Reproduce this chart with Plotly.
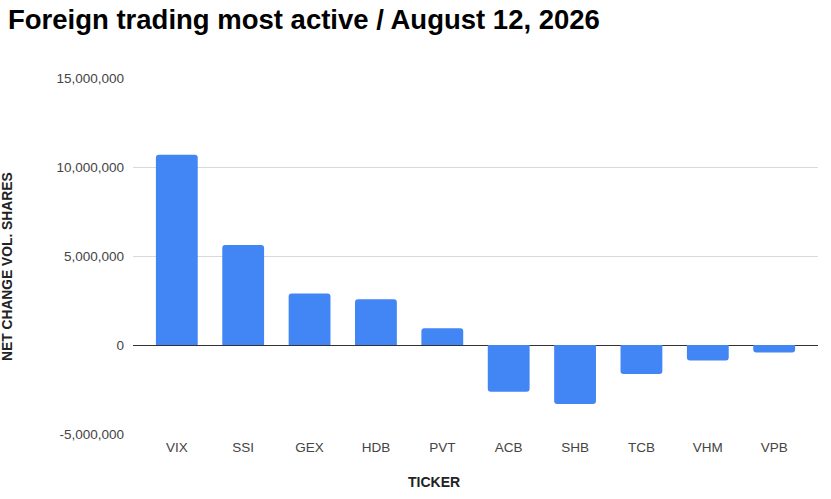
import plotly.graph_objects as go

tickers = ["VIX", "SSI", "GEX", "HDB", "PVT", "ACB", "SHB", "TCB", "VHM", "VPB"]
net_change = [10690000, 5620000, 2900000, 2570000, 940000,
              -2630000, -3320000, -1630000, -870000, -420000]
y_ticks = [-5000000, 0, 5000000, 10000000, 15000000]
y_tick_labels = ["-5,000,000", "0", "5,000,000", "10,000,000", "15,000,000"]

fig = go.Figure(go.Bar(
    x=tickers, y=net_change,
    marker=dict(color="#4285F4", line=dict(width=0)),
    width=0.63,
))

fig.update_layout(
    width=831, height=499,
    paper_bgcolor="white", plot_bgcolor="white",
    margin=dict(l=133, r=13, t=78, b=65),
    font=dict(family="Liberation Sans, Arial, sans-serif", color="#444444", size=13),
    title=dict(text="<b>Foreign trading most active / August 12, 2026</b>",
               x=0.0096, xanchor="left", y=0.962, yanchor="middle",
               font=dict(size=27.5, color="#000000")),
    barcornerradius=3,
    showlegend=False,
    annotations=[
        dict(text="<b>TICKER</b>", xref="paper", yref="paper",
             x=0.439, y=-0.135, xanchor="center", yanchor="middle",
             showarrow=False, font=dict(size=14, color="#222222")),
        dict(text="<b>NET CHANGE VOL. SHARES</b>", xref="paper", yref="paper",
             x=-0.1825, y=0.472, xanchor="center", yanchor="middle", textangle=-90,
             showarrow=False, font=dict(size=13.8, color="#222222")),
    ],
)
fig.update_xaxes(
    range=[-0.66, 9.66], showgrid=False, showline=False, ticks="",
    ticklabelstandoff=3,
    tickfont=dict(size=13.5, color="#444444"),
)
fig.update_yaxes(
    range=[-5000000, 15000000], tickvals=y_ticks, ticktext=y_tick_labels,
    showgrid=True, gridcolor="#d9d9d9", gridwidth=1,
    zeroline=True, zerolinecolor="#333333", zerolinewidth=1,
    ticks="", ticklabelstandoff=8,
    tickfont=dict(size=13.5, color="#444444"),
)

fig.write_html("out.html", config={"displayModeBar": False},
               post_script="document.body.style.margin='0';document.body.style.overflow='hidden';")
